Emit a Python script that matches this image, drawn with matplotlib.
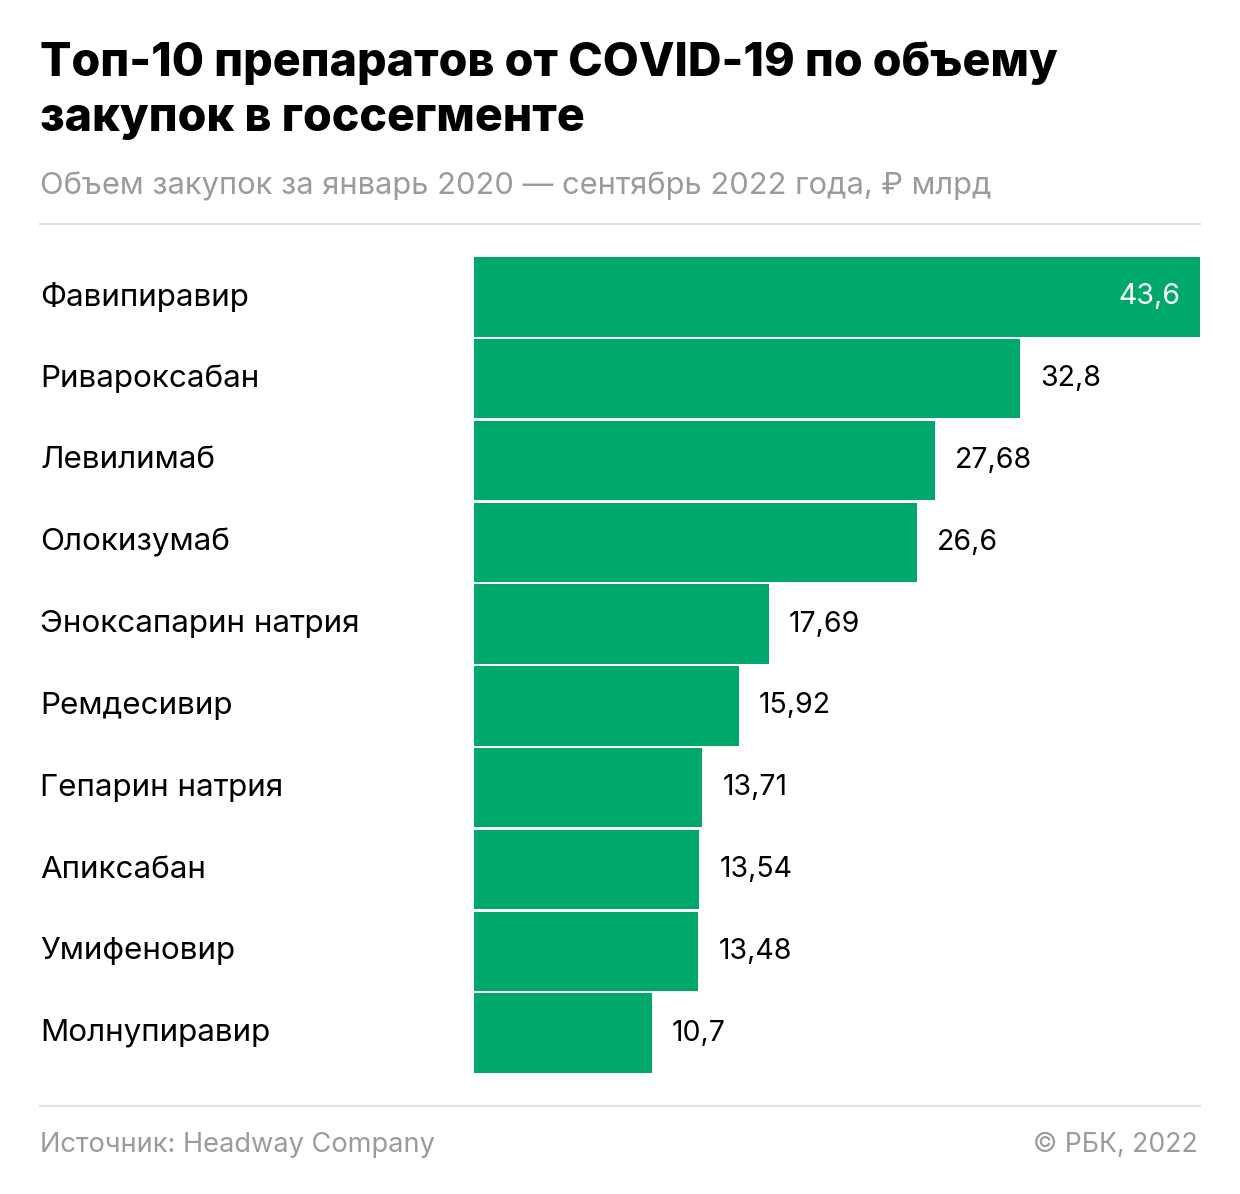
import matplotlib.pyplot as plt
from matplotlib.lines import Line2D

plt.rcParams['font.family'] = ['Inter', 'DejaVu Sans']

W, H = 1240, 1194

drugs = ['Фавипиравир', 'Ривароксабан', 'Левилимаб', 'Олокизумаб',
         'Эноксапарин натрия', 'Ремдесивир', 'Гепарин натрия', 'Апиксабан',
         'Умифеновир', 'Молнупиравир']
values = [43.6, 32.8, 27.68, 26.6, 17.69, 15.92, 13.71, 13.54, 13.48, 10.7]
value_labels = ['43,6', '32,8', '27,68', '26,6', '17,69', '15,92', '13,71',
                '13,54', '13,48', '10,7']

GREEN = '#00a86b'
GRAY = '#9b9b9b'

fig = plt.figure(figsize=(W / 100, H / 100), dpi=100)
fig.patch.set_facecolor('white')

# bar area in pixels
x0, x1 = 474, 1200
y_top, y_bot = 256, 1074
ax = fig.add_axes([x0 / W, 1 - y_bot / H, (x1 - x0) / W, (y_bot - y_top) / H])
ax.set_xlim(0, max(values))
ax.set_ylim(len(drugs) - 0.5, -0.5)
ax.axis('off')

pos = list(range(len(drugs)))
ax.barh(pos, values, height=0.97, color=GREEN)

px_per_unit = (x1 - x0) / max(values)
for i, (v, lab) in enumerate(zip(values, value_labels)):
    if i == 0:
        ax.text(v - 20 / px_per_unit, i, lab, ha='right', va='center',
                fontsize=20.5, color='white')
    else:
        ax.text(v + 20 / px_per_unit, i, lab, ha='left', va='center',
                fontsize=20.5, color='black')
    # category names on the left
    fig.text(40 / W, 1 - (y_top + (i + 0.5) * (y_bot - y_top) / len(drugs)) / H,
             drugs[i], ha='left', va='center', fontsize=22.6, color='black')

# title and subtitle
fig.text(40 / W, 1 - 64 / H, 'Топ-10 препаратов от COVID-19 по объему',
         fontsize=33.5, fontweight=800, color='black', va='center')
fig.text(40 / W, 1 - 119 / H, 'закупок в госсегменте',
         fontsize=33.5, fontweight=800, color='black', va='center')
fig.text(40 / W, 1 - 186 / H,
         'Объем закупок за январь 2020 — сентябрь 2022 года, ₽ млрд',
         fontsize=22.2, color=GRAY, va='center')

# separator lines
for y in (224, 1106):
    fig.add_artist(Line2D([40 / W, 1200 / W], [1 - y / H, 1 - y / H],
                          color='#e0e0e0', linewidth=1.5))

# footer
fig.text(40 / W, 1 - 1145 / H, 'Источник: Headway Company',
         fontsize=19.6, color=GRAY, va='center')
fig.text(1198 / W, 1 - 1145 / H, '© РБК, 2022',
         fontsize=19.2, color=GRAY, va='center', ha='right')

fig.savefig('out.png', dpi=100, facecolor='white')
